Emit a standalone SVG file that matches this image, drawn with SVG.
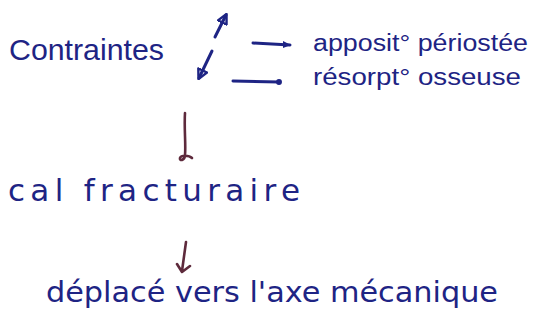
<svg xmlns="http://www.w3.org/2000/svg" width="540" height="331" viewBox="0 0 540 331">
  <style>
    .t { font-family: "Liberation Sans", "DejaVu Sans", sans-serif; fill: #1e2484; }
    .w { font-family: "DejaVu Sans", "Liberation Sans", sans-serif; fill: #1e2484; }
    .ink { fill: none; stroke: #1e2484; stroke-width: 3; stroke-linecap: round; stroke-linejoin: round; }
    .brown { fill: none; stroke: #5e2a3c; stroke-width: 2.6; stroke-linecap: round; stroke-linejoin: round; }
  </style>
  <defs>
    <marker id="ah" viewBox="0 0 10 10" refX="8" refY="5" markerWidth="4" markerHeight="4" orient="auto" markerUnits="strokeWidth">
      <path d="M1,1 L9,5 L1,9 Z" fill="none" stroke="#1e2484" stroke-width="2" stroke-linejoin="round"/>
    </marker>
    <marker id="ahs" viewBox="0 0 10 10" refX="8" refY="5" markerWidth="3" markerHeight="3" orient="auto" markerUnits="strokeWidth">
      <path d="M0,1 L9,5 L0,9 Z" fill="#1e2484"/>
    </marker>
    <marker id="dot" viewBox="0 0 10 10" refX="5" refY="5" markerWidth="2.2" markerHeight="2.2" orient="auto" markerUnits="strokeWidth">
      <circle cx="5" cy="5" r="4.5" fill="#1e2484"/>
    </marker>
  </defs>
  <rect width="540" height="331" fill="#ffffff"/>

  <g id="contraintes">
    <text class="t" x="9" y="60" font-size="30" textLength="155" lengthAdjust="spacingAndGlyphs">Contraintes</text>
  </g>
  <g id="apposition">
    <text class="t" x="313" y="51" font-size="23" textLength="215" lengthAdjust="spacingAndGlyphs">apposit° périostée</text>
  </g>
  <g id="resorption">
    <text class="t" x="313" y="85" font-size="23" textLength="208" lengthAdjust="spacingAndGlyphs">résorpt° osseuse</text>
  </g>
  <g id="cal">
    <text class="w" x="8" y="201" font-size="31" textLength="292" lengthAdjust="spacing">cal fracturaire</text>
  </g>
  <g id="deplace">
    <text class="w" x="46" y="302" font-size="29" textLength="452" lengthAdjust="spacingAndGlyphs">déplacé vers l'axe mécanique</text>
  </g>

  <g id="connectors">
    <path class="ink" d="M215,37 L226,15" marker-end="url(#ah)"/>
    <path class="ink" d="M212,51 L199,78" marker-end="url(#ah)"/>
    <path class="ink" d="M253,43 L290,45" marker-end="url(#ahs)"/>
    <path class="ink" d="M233,81 L279,82" marker-end="url(#dot)"/>
    <path class="brown" d="M185,113 C184,128 186,145 185,155 C185,161 179,161 180,158 C181,155 189,155 192,158"/>
    <path class="brown" d="M186,242 L182,271 M177,264 L182,272 L190,266"/>
  </g>
</svg>
